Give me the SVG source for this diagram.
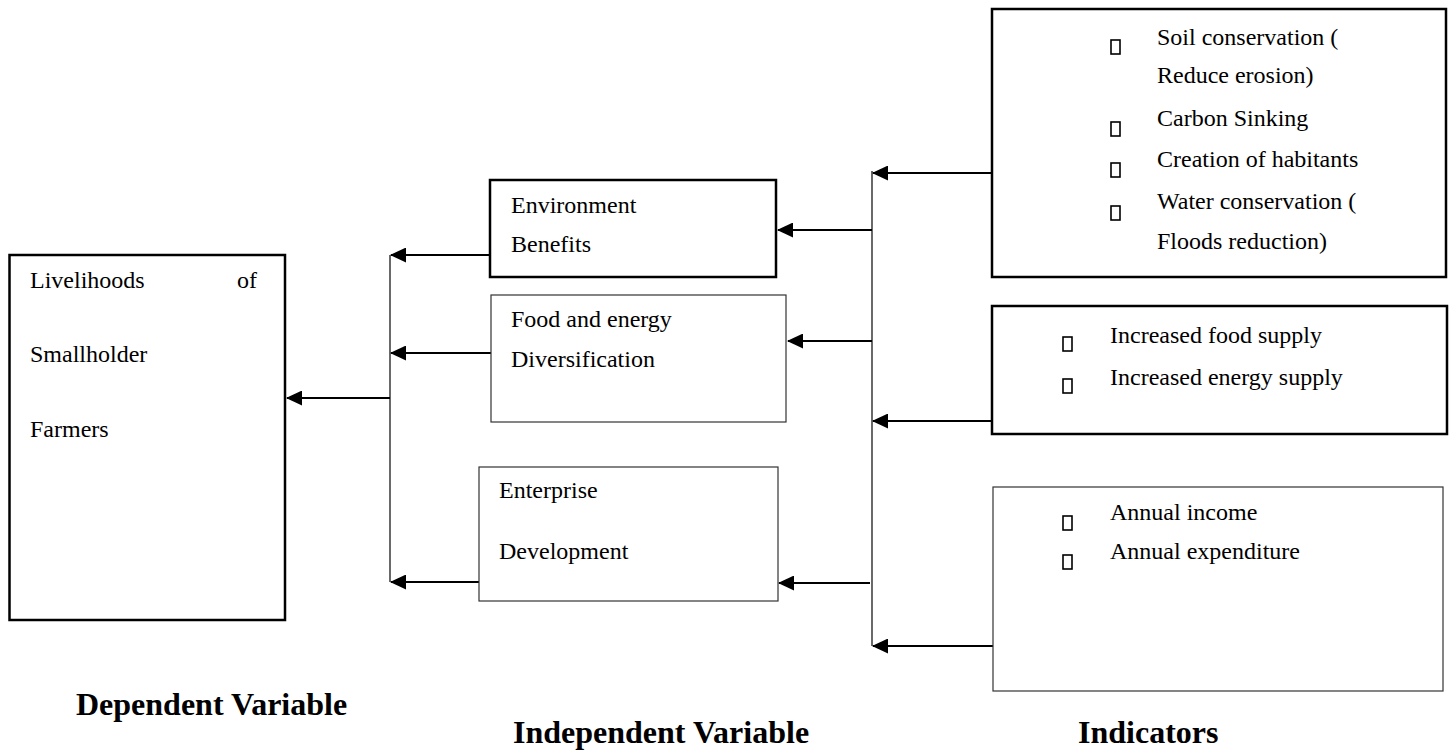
<svg xmlns="http://www.w3.org/2000/svg" width="1452" height="750" viewBox="0 0 1452 750">
<defs>
<style>
.t{font-family:"Liberation Serif","Times New Roman",serif;font-size:24px;fill:#000}
.h{font-family:"Liberation Serif","Times New Roman",serif;font-size:32px;font-weight:bold;fill:#000}
.thick{fill:#fff;stroke:#000;stroke-width:2.5}
.thin{fill:#fff;stroke:#333;stroke-width:1.2}
.bul{fill:none;stroke:#000;stroke-width:1.6}
.arr{stroke:#000;stroke-width:2.2;fill:none;marker-end:url(#ah)}
.vl{stroke:#444;stroke-width:1.6;fill:none}
</style>
<marker id="ah" viewBox="0 0 16 15" refX="15" refY="7.5" markerWidth="16" markerHeight="15" markerUnits="userSpaceOnUse" orient="auto">
<path d="M0,0 L16,7.5 L0,15 z" fill="#000"/>
</marker>
</defs>
<rect width="1452" height="750" fill="#fff"/>

<g id="connectors">
<line class="vl" x1="390" y1="255" x2="390" y2="582"/>
<line class="vl" x1="872" y1="171" x2="872" y2="646"/>
<line class="arr" x1="390" y1="398" x2="287" y2="398"/>
<line class="arr" x1="490" y1="255" x2="391" y2="255"/>
<line class="arr" x1="491" y1="353" x2="391" y2="353"/>
<line class="arr" x1="479" y1="582" x2="391" y2="582"/>
<line class="arr" x1="872" y1="230" x2="778" y2="230"/>
<line class="arr" x1="872" y1="341" x2="788" y2="341"/>
<line class="arr" x1="870" y1="583" x2="779" y2="583"/>
<line class="arr" x1="992" y1="173" x2="873" y2="173"/>
<line class="arr" x1="992" y1="421" x2="873" y2="421"/>
<line class="arr" x1="993" y1="646" x2="873" y2="646"/>
</g>

<g id="livelihoods">
<rect class="thick" x="9.5" y="255" width="275.5" height="365"/>
<text class="t" x="30" y="288">Livelihoods</text>
<text class="t" x="237" y="288">of</text>
<text class="t" x="30" y="362">Smallholder</text>
<text class="t" x="30" y="437">Farmers</text>
</g>

<g id="environment">
<rect class="thick" x="490" y="180" width="286" height="97"/>
<text class="t" x="511" y="213">Environment</text>
<text class="t" x="511" y="252">Benefits</text>
</g>

<g id="food">
<rect class="thin" x="491" y="295" width="295" height="127"/>
<text class="t" x="511" y="327">Food and energy</text>
<text class="t" x="511" y="367">Diversification</text>
</g>

<g id="enterprise">
<rect class="thin" x="479" y="467" width="299" height="134"/>
<text class="t" x="499" y="498">Enterprise</text>
<text class="t" x="499" y="559">Development</text>
</g>

<g id="env-indicators">
<rect class="thick" x="992" y="9" width="454" height="268"/>
<rect class="bul" x="1111" y="40" width="9" height="14"/>
<rect class="bul" x="1111" y="122" width="9" height="14"/>
<rect class="bul" x="1111" y="163" width="9" height="14"/>
<rect class="bul" x="1111" y="206" width="9" height="14"/>
<text class="t" x="1157" y="45">Soil conservation (</text>
<text class="t" x="1157" y="83">Reduce erosion)</text>
<text class="t" x="1157" y="126">Carbon Sinking</text>
<text class="t" x="1157" y="167">Creation of habitants</text>
<text class="t" x="1157" y="209">Water conservation (</text>
<text class="t" x="1157" y="249">Floods reduction)</text>
</g>

<g id="food-indicators">
<rect class="thick" x="992" y="306" width="455" height="128"/>
<rect class="bul" x="1063" y="337" width="9" height="14"/>
<rect class="bul" x="1063" y="379" width="9" height="14"/>
<text class="t" x="1110" y="343">Increased food supply</text>
<text class="t" x="1110" y="385">Increased energy supply</text>
</g>

<g id="enterprise-indicators">
<rect class="thin" x="993" y="487" width="450" height="204"/>
<rect class="bul" x="1063" y="516" width="9" height="14"/>
<rect class="bul" x="1063" y="555" width="9" height="14"/>
<text class="t" x="1110" y="520">Annual income</text>
<text class="t" x="1110" y="559">Annual expenditure</text>
</g>

<g id="labels">
<text class="h" x="76" y="715">Dependent Variable</text>
<text class="h" x="513" y="743">Independent Variable</text>
<text class="h" x="1078" y="743">Indicators</text>
</g>
</svg>
